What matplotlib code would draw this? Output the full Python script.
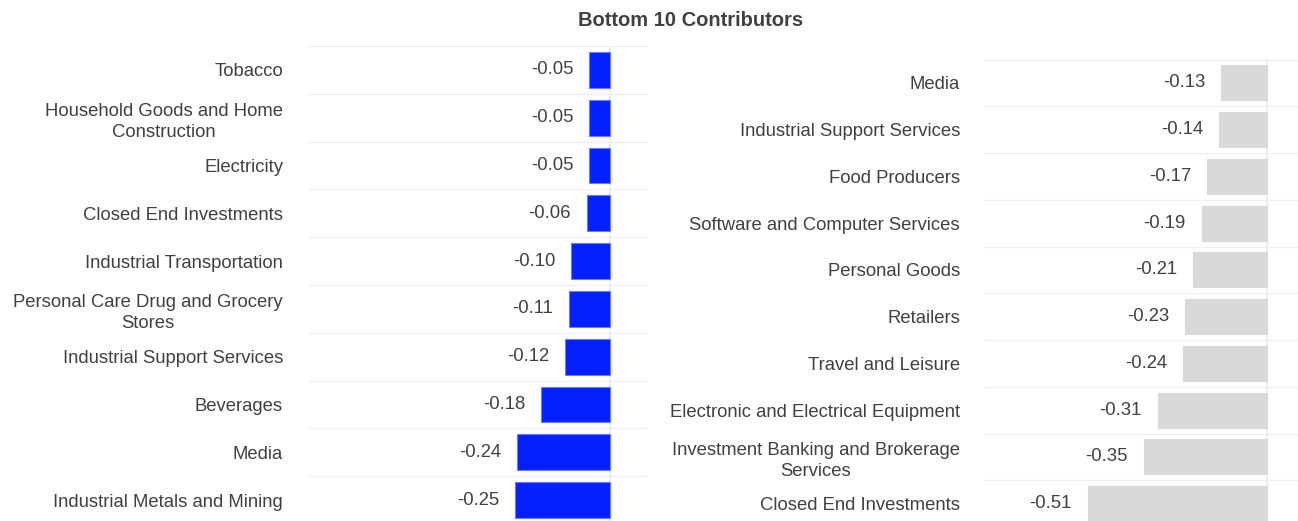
import matplotlib
matplotlib.use("Agg")
import numpy as np
import matplotlib.pyplot as plt
import matplotlib.transforms as mtransforms

left_cats = ["Tobacco", "Household Goods and Home\nConstruction", "Electricity",
             "Closed End Investments", "Industrial Transportation",
             "Personal Care Drug and Grocery\nStores", "Industrial Support Services",
             "Beverages", "Media", "Industrial Metals and Mining"]
left_vals = [-0.054, -0.054, -0.054, -0.060, -0.101, -0.106, -0.117, -0.179, -0.242, -0.247]

right_cats = ["Media", "Industrial Support Services", "Food Producers",
              "Software and Computer Services", "Personal Goods", "Retailers",
              "Travel and Leisure", "Electronic and Electrical Equipment",
              "Investment Banking and Brokerage\nServices", "Closed End Investments"]
right_vals = [-0.131, -0.137, -0.171, -0.186, -0.210, -0.233, -0.239, -0.312, -0.352, -0.511]

TXT = "#404040"
W, H = 1298, 521
plt.rcParams["font.family"] = ["Liberation Sans", "DejaVu Sans"]

fig = plt.figure(figsize=(W / 100, H / 100), dpi=100)


def px_axes(x0, x1, y0, y1):
    # pixel box (top-left origin) -> figure fraction
    return fig.add_axes([x0 / W, 1 - y1 / H, (x1 - x0) / W, (y1 - y0) / H])


def panel(ax, cats, vals, color, xlim, edge):
    y = np.arange(len(cats))
    ax.barh(y, vals, height=0.75, color=color, edgecolor=edge, linewidth=0.8, zorder=3)
    ax.set_xlim(*xlim)
    ax.set_ylim(len(cats) - 0.5, -0.5)
    ax.set_yticks(y)
    ax.set_yticklabels(cats, fontsize=13.3, color=TXT)
    shift = mtransforms.ScaledTranslation(0, 2 / 100, fig.dpi_scale_trans)
    for lbl in ax.get_yticklabels():
        lbl.set_multialignment("center")
        lbl.set_linespacing(1.3)
        lbl.set_transform(lbl.get_transform() + shift)
    ax.tick_params(axis="y", length=0, pad=18)
    ax.set_xticks([])
    ax.set_yticks(np.arange(-0.5, len(cats), 1), minor=True)
    ax.tick_params(axis="y", which="minor", length=0)
    ax.grid(axis="y", which="minor", color="#f0f0f0", linewidth=1, zorder=0)
    ax.axvline(0, color="#ececec", linewidth=1.2, zorder=2)
    for s in ax.spines.values():
        s.set_visible(False)
    for yi, v in zip(y, vals):
        ax.annotate(f"{v:.2f}", (v, yi), xytext=(-11.5, 0), textcoords="offset points",
                    ha="right", va="center", fontsize=13.3, color=TXT)


axl = px_axes(308, 647, 46, 524)
panel(axl, left_cats, left_vals, "#0520ff", (-0.784, 0.096), "#6a7bff")

axr = px_axes(985, 1298, 59.6, 527)
panel(axr, right_cats, right_vals, "#d9d9d9", (-0.805, 0.089), "#d9d9d9")

fig.text(691 / W, 1 - 20 / H, "Bottom 10 Contributors", ha="center", va="center",
         fontsize=14.5, fontweight="bold", color=TXT)

fig.savefig("out.png", dpi=100)
